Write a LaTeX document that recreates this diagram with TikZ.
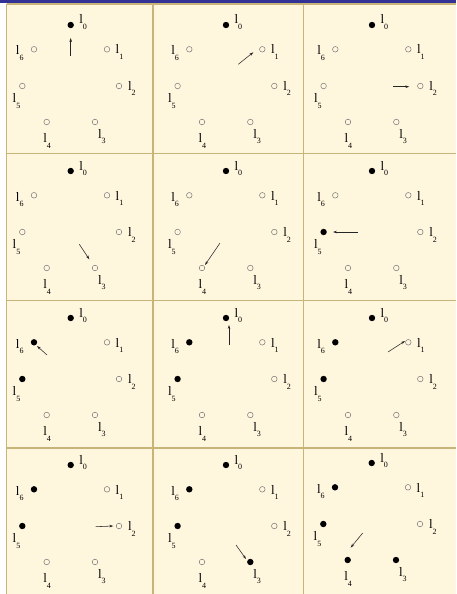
\documentclass[tikz,border=0pt]{standalone}
\usepackage{fontspec}
\setmainfont{Liberation Serif}
\usetikzlibrary{arrows.meta}
\definecolor{bg}{RGB}{255,246,222}
\definecolor{gridc}{RGB}{200,180,120}
\definecolor{barc}{RGB}{50,50,150}
\definecolor{ring}{RGB}{120,120,120}
\tikzset{
 opendot/.style={circle,draw=ring,fill=none,line width=0.5pt,minimum size=5.6pt,inner sep=0pt},
 filldot/.style={circle,fill=black,draw=none,minimum size=6.4pt,inner sep=0pt},
 lab/.style={anchor=base west,inner sep=0pt,outer sep=0pt},
 arr/.style={-{Stealth[length=4pt,width=2.6pt]},line width=0.55pt,draw=black!85},
 gridline/.style={draw=gridc,line width=1.6pt},
}
\newcommand\lbl[1]{{\fontsize{13}{13}\selectfont l}\raisebox{-5.3pt}{\fontsize{8}{8}\selectfont #1}}
\newcommand\drawcell[8]{%
\begin{scope}[shift={(#2,#3)}]
\foreach \k/\px/\py/\lx/\ly in {0/0/0/8.6/-1, 1/36.3/24.3/8.7/4.7, 2/48.3/61/9/4.7, 3/24.3/97/3/16.3, 4/-24/97/-3.4/20.7, 5/-48.4/61/-9.6/16.7, 6/-36.7/24.3/-18/5.7}{
 \pgfmathtruncatemacro\isf{array({#4},\k)}
 \ifnum\isf=1 \def\st{filldot}\else\def\st{opendot}\fi
 \node[\st] (#1-\k) at (\px,\py) {};
 \node[lab] (#1-l\k) at (\px+\lx,\py+\ly) {\lbl{\k}};
}
\coordinate (#1-t) at (#5,#6);
\coordinate (#1-h) at (#7,#8);
\draw[arr] (#1-t) -- (#1-h);
\end{scope}}
\begin{document}
\begin{tikzpicture}[x=1pt,y=-1pt]
\useasboundingbox (0,0) rectangle (456,594);
\fill[white] (0,0) rectangle (456,594);
\fill[bg] (6.5,4) rectangle (456,594);
\fill[barc] (0,0) rectangle (456,3.5);
\foreach \yy in {4,153.3,300.5,448} \draw[gridline] (6.5,\yy) -- (456,\yy);
\foreach \xx in {6.5,152.7,303.5} \draw[gridline] (\xx,4) -- (\xx,594);
\drawcell{A}{70.7}{25}{1,0,0,0,0,0,0}{0}{31}{0}{13}
\drawcell{B}{226}{25}{1,0,0,0,0,0,0}{12.3}{39.3}{27.3}{27.3}
\drawcell{C}{372}{25}{1,0,0,0,0,0,0}{21.3}{61.7}{37.3}{61.7}
\drawcell{D}{70.7}{171}{1,0,0,0,0,0,0}{8.6}{73.3}{18.6}{88.3}
\drawcell{E}{226}{171}{1,0,0,0,0,0,0}{-6}{72}{-21}{94}
\drawcell{F}{372}{171}{1,0,0,0,0,1,0}{-14}{61}{-39}{61}
\drawcell{G}{70.7}{318}{1,0,0,0,0,1,1}{-23.7}{37}{-33.7}{28}
\drawcell{H}{226}{318}{1,0,0,0,0,1,1}{3}{27}{3}{7}
\drawcell{I}{372}{318}{1,0,0,0,0,1,1}{16}{34}{33}{23}
\drawcell{J}{70.7}{465}{1,0,0,0,0,1,1}{25}{61.7}{42.6}{61}
\drawcell{K}{226}{465}{1,0,0,1,0,1,1}{10}{80}{20}{94}
\drawcell{L}{371.7}{463}{1,0,0,1,1,1,1}{-9}{70}{-21}{84.6}
\end{tikzpicture}
\end{document}
